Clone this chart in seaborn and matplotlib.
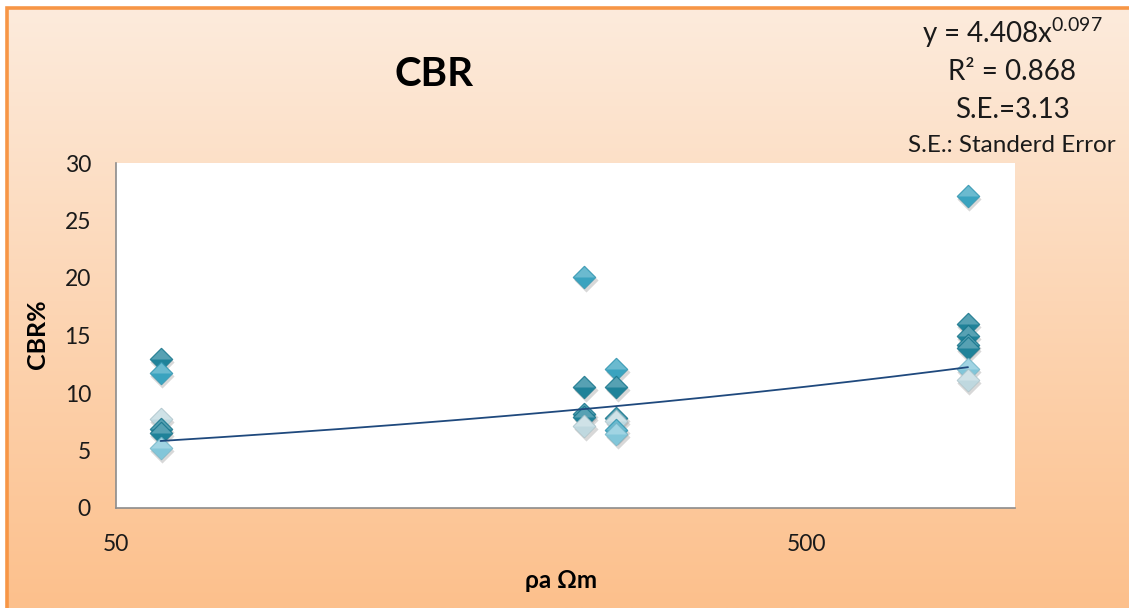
import numpy as np
import pandas as pd
import matplotlib
matplotlib.use("Agg")
import matplotlib.pyplot as plt
import matplotlib.transforms as mtransforms
from matplotlib.patches import Rectangle
import seaborn as sns

# ---- data -------------------------------------------------------------
resistivity = [58, 58, 58, 58, 58, 58,
               238, 238, 238, 238, 238,
               265, 265, 265, 265, 265, 265,
               855, 855, 855, 855, 855, 855, 855]
cbr = [7.7, 13.0, 11.7, 6.9, 6.5, 5.2,
       20.1, 10.5, 8.2, 7.9, 7.1,
       12.1, 10.5, 7.8, 7.6, 6.8, 6.4,
       27.1, 16.0, 15.0, 14.2, 13.9, 12.1, 11.1]
shade = ["pale", "dark", "mid", "dark", "dark", "light",
         "mid", "dark", "dark", "dark", "pale",
         "mid", "dark", "dark", "pale", "mid", "light",
         "mid", "dark", "dark", "dark", "dark", "light", "pale"]

# power-law trend y = a * x^b drawn across the data range
trend_coef = 1.90
trend_exp = 0.276

y_ticks = [0, 5, 10, 15, 20, 25, 30]
x_ticks = [50, 500]
x_tick_labels = ["50", "500"]

eq_lines = ["R\u00b2 = 0.868", "S.E.=3.13"]
eq_note = "S.E.: Standerd Error"

df = pd.DataFrame({"rho": resistivity, "cbr": cbr, "shade": shade})

# ---- styling ----------------------------------------------------------
sns.set_theme(style="white")
plt.rcParams["font.family"] = ["Lato", "Open Sans", "DejaVu Sans"]

base_colors = {"dark": "#1f8299", "mid": "#3aa3bf", "light": "#82c6d9", "pale": "#bfd8df"}


def lighten(hex_color, amount):
    rgb = np.array(matplotlib.colors.to_rgb(hex_color))
    return tuple(rgb + (1 - rgb) * amount)


top_colors = {k: lighten(v, 0.25) for k, v in base_colors.items()}
edge_dark = {k: tuple(np.array(matplotlib.colors.to_rgb(v)) * 0.88) for k, v in base_colors.items()}

W, H = 1129, 608
fig = plt.figure(figsize=(W / 100, H / 100), dpi=100)

# chart background: vertical peach gradient inside an orange frame
bg = fig.add_axes([0, 0, 1, 1], zorder=-10)
bg.set_axis_off()
top_rgb = np.array([253, 235, 220]) / 255
bot_rgb = np.array([252, 192, 140]) / 255
t = np.linspace(0, 1, 256)[:, None, None]
grad = top_rgb * (1 - t) + bot_rgb * t
grad = np.repeat(grad, 2, axis=1)
bg.imshow(grad, aspect="auto", extent=[7 / W, 1.2, 0, 1 - 8 / H], origin="upper")
bg.set_xlim(0, 1)
bg.set_ylim(0, 1)
bg.add_patch(Rectangle((7 / W, -0.1), 1.2, 1 - 8 / H + 0.1, fill=False,
                       edgecolor="#f79646", linewidth=2.6))

# plotting area
ax = fig.add_axes([116 / W, 1 - 508 / H, (1015 - 116) / W, (508 - 163) / H])
ax.set_facecolor("white")
ax.set_xscale("log")
ax.set_xlim(50, 1000)
ax.set_ylim(0, 30)

diamond = [(0, 1), (1, 0), (0, -1), (-1, 0), (0, 1)]
upper = [(-1, 0), (0, 1), (1, 0), (-1, 0)]
msize = 275

# soft drop shadow under each diamond
shadow_tr = mtransforms.offset_copy(ax.transData, fig=fig, x=1.5, y=-3, units="dots")
sns.scatterplot(data=df, x="rho", y="cbr", ax=ax, marker=diamond, s=msize * 1.1,
                color="#808080", alpha=0.3, linewidth=0, legend=False,
                transform=shadow_tr, zorder=3)

# draw each diamond: darker body, lighter upper facets
for i in range(len(df)):
    row = df.iloc[[i]]
    k = row["shade"].iloc[0]
    sns.scatterplot(data=row, x="rho", y="cbr", ax=ax, marker=diamond, s=msize,
                    color=base_colors[k], edgecolor=edge_dark[k], linewidth=0.4,
                    legend=False, zorder=4 + i * 0.01)
    sns.scatterplot(data=row, x="rho", y="cbr", ax=ax, marker=upper, s=msize * 0.8,
                    color=top_colors[k], linewidth=0, legend=False,
                    zorder=4 + i * 0.01 + 0.005)

# power-law trend line
xs = np.geomspace(min(resistivity), max(resistivity), 200)
sns.lineplot(x=xs, y=trend_coef * xs ** trend_exp, ax=ax, color="#1f497d",
             linewidth=1.3, zorder=10)

# axes decoration
for side in ["top", "right"]:
    ax.spines[side].set_visible(False)
for side in ["left", "bottom"]:
    ax.spines[side].set_visible(True)
    ax.spines[side].set_color("#8c8c8c")
    ax.spines[side].set_linewidth(1.2)
ax.set_yticks(y_ticks)
ax.set_xticks(x_ticks)
ax.set_xticklabels(x_tick_labels)
ax.xaxis.set_minor_locator(matplotlib.ticker.NullLocator())
ax.tick_params(axis="both", which="major", direction="out", length=7, width=1,
               color="#8c8c8c", labelsize=16.5, labelcolor="#1a1a1a")
ax.tick_params(axis="y", pad=11)
ax.tick_params(axis="x", pad=12)
ax.set_xlabel("")
ax.set_ylabel("")
ax.grid(False)

# titles and labels
fig.text(434 / W, 1 - 75 / H, "CBR", ha="center", va="center",
         fontsize=29, fontweight="bold", color="black")
fig.text(37 / W, 1 - 334 / H, "CBR%", ha="center", va="center", rotation=90,
         fontsize=18, fontweight="bold", color="black")
fig.text(561 / W, 1 - 580 / H, "\u03c1a \u03a9m", ha="center", va="center",
         fontsize=17.5, fontweight="bold", color="black")

# fit statistics
fig.text(1012 / W, 1 - 33 / H, r"y = 4.408x$^{\mathregular{0.097}}$", ha="center",
         va="center", fontsize=20, color="#1a1a1a")
fig.text(1012 / W, 1 - 72 / H, eq_lines[0], ha="center", va="center",
         fontsize=20, color="#1a1a1a")
fig.text(1012 / W, 1 - 110 / H, eq_lines[1], ha="center", va="center",
         fontsize=20, color="#1a1a1a")
fig.text(1012 / W, 1 - 145 / H, eq_note, ha="center", va="center",
         fontsize=17.5, color="#1a1a1a")

fig.savefig("out.png", dpi=100, facecolor="white")
